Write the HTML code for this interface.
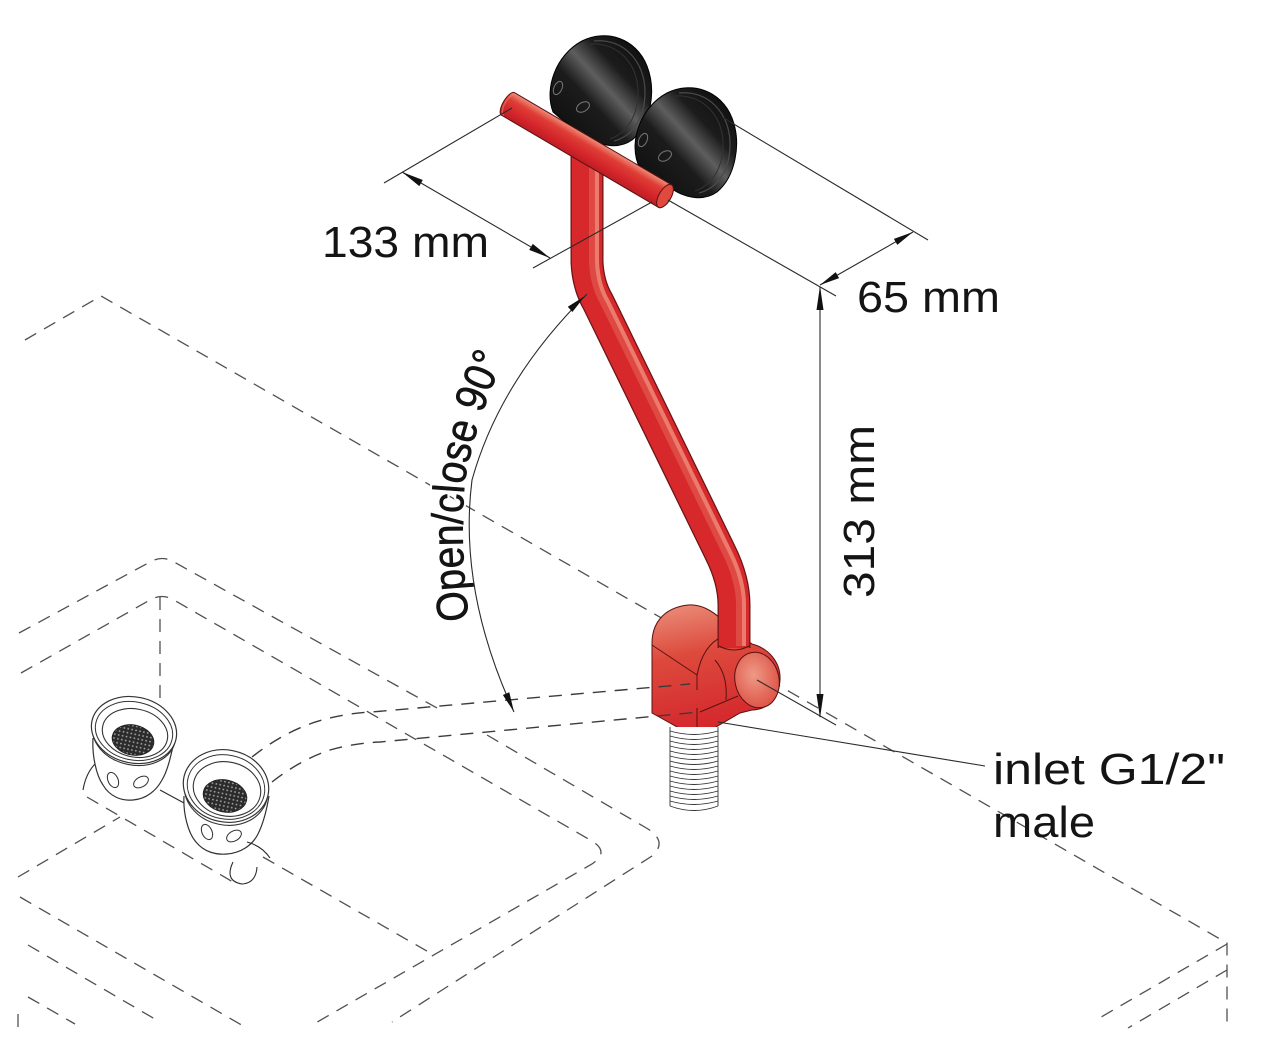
<!DOCTYPE html>
<html><head><meta charset="utf-8">
<style>
html,body{margin:0;padding:0;background:#fff;}
svg{display:block;}
.d{fill:none;stroke:#505050;stroke-width:1.3;stroke-dasharray:13 9;}
.s{fill:none;stroke:#2a2a2a;stroke-width:1.1;}
.t{font-family:"Liberation Sans",Arial,sans-serif;fill:#141414;}
</style></head>
<body>
<svg width="1280" height="1058" viewBox="0 0 1280 1058" xmlns="http://www.w3.org/2000/svg">
<defs>
 <linearGradient id="cupG" x1="0" y1="1" x2="1" y2="0">
  <stop offset="0" stop-color="#0a0a0a"/>
  <stop offset="0.40" stop-color="#1c1c1c"/>
  <stop offset="0.54" stop-color="#5e5e5e"/>
  <stop offset="0.68" stop-color="#1c1c1c"/>
  <stop offset="1" stop-color="#0a0a0a"/>
 </linearGradient>
 <linearGradient id="barG" gradientUnits="userSpaceOnUse" x1="0" y1="-13" x2="0" y2="13">
  <stop offset="0" stop-color="#ef8f7c"/>
  <stop offset="0.3" stop-color="#df3e36"/>
  <stop offset="0.7" stop-color="#d4252b"/>
  <stop offset="1" stop-color="#bd1d24"/>
 </linearGradient>
 <linearGradient id="blockG" x1="0.3" y1="0" x2="0.5" y2="1">
  <stop offset="0" stop-color="#e98774"/>
  <stop offset="0.35" stop-color="#dd4a3d"/>
  <stop offset="1" stop-color="#d3222a"/>
 </linearGradient>
 <radialGradient id="cylG" cx="0.45" cy="0.4" r="0.7">
  <stop offset="0" stop-color="#ee9a86"/>
  <stop offset="1" stop-color="#dc4a3e"/>
 </radialGradient>
 <pattern id="mesh" width="4" height="4" patternUnits="userSpaceOnUse">
  <rect width="4" height="4" fill="#2b2b2b"/>
  <circle cx="2" cy="2" r="0.9" fill="#aaa"/>
 </pattern>
 <path id="arcText" d="M469,620 Q459,545 465,480 Q478,410 512,343"/>
</defs>

<!-- countertop -->
<path class="d" d="M25,340 L101,296 L1227,943 L1227,1022"/>
<path class="d" d="M1227,944 L1096,1020"/>
<path class="d" d="M1227,970 L1128,1028"/>
<!-- sink rims -->
<path class="d" d="M19,633 L150,562 Q162,555 174,562 L437,708"/>
<path class="d" d="M487,735 L648,829 Q668,842 652,856 L392,1022"/>
<path class="d" d="M21,673 L150,600 Q162,593 174,600 L592,841 Q610,852 592,864 L312,1025"/>
<path class="d" d="M160,597 L160,700"/>
<!-- basin -->
<path class="d" d="M18,877 L120,817"/>
<path class="d" d="M87,797 L233,882"/>
<path class="d" d="M263,857 L432,954"/>
<!-- lower-left -->
<path class="d" d="M20,897 L245,1027"/>
<path class="d" d="M28,945 L160,1022"/>
<path class="d" d="M28,997 L75,1024"/>
<path class="d" d="M18,1014 L18,1028"/>

<!-- strainer 1 -->
<path d="M83,790 Q86,772 97,762" class="s"/>
<path d="M93,738 C92,755 96,775 103,785 C110,797 122,801 133,800 C146,799 156,791 162,780 C168,770 171,755 174,742" fill="#fff" stroke="#333" stroke-width="1.2"/>
<ellipse cx="134" cy="733" rx="42" ry="32" transform="rotate(12 134 733)" fill="#fff" stroke="#333" stroke-width="1.1"/>
<ellipse cx="134" cy="730" rx="43" ry="33" transform="rotate(12 134 730)" fill="#fff" stroke="#333" stroke-width="1.2"/>
<ellipse cx="134" cy="731" rx="39" ry="29" transform="rotate(12 134 731)" fill="none" stroke="#333" stroke-width="1"/>
<ellipse cx="135" cy="733" rx="33" ry="24" transform="rotate(12 135 733)" fill="#fff" stroke="#333" stroke-width="1.1"/>
<ellipse cx="133" cy="740" rx="21" ry="15" transform="rotate(12 133 740)" fill="url(#mesh)" stroke="#222"/>
<ellipse cx="113" cy="780" rx="5" ry="8" transform="rotate(-25 113 780)" fill="#fff" stroke="#333"/>
<ellipse cx="141" cy="782" rx="8" ry="5" transform="rotate(-30 141 782)" fill="#fff" stroke="#333"/>
<path d="M160,790 L184,803" class="s"/>

<!-- strainer 2 -->
<path d="M184,796 C183,813 188,833 196,842 C204,852 216,855 227,854 C240,853 252,846 258,834 C264,822 267,808 269,796" fill="#fff" stroke="#333" stroke-width="1.2"/>
<ellipse cx="226" cy="790" rx="42" ry="35" transform="rotate(12 226 790)" fill="#fff" stroke="#333" stroke-width="1.1"/>
<ellipse cx="226" cy="786" rx="43" ry="36" transform="rotate(12 226 786)" fill="#fff" stroke="#333" stroke-width="1.2"/>
<ellipse cx="226" cy="787" rx="39" ry="32" transform="rotate(12 226 787)" fill="none" stroke="#333" stroke-width="1"/>
<ellipse cx="227" cy="789" rx="34" ry="27" transform="rotate(12 227 789)" fill="#fff" stroke="#333" stroke-width="1.1"/>
<ellipse cx="225" cy="796" rx="22" ry="16" transform="rotate(12 225 796)" fill="url(#mesh)" stroke="#222"/>
<ellipse cx="207" cy="832" rx="5" ry="8" transform="rotate(-25 207 832)" fill="#fff" stroke="#333"/>
<ellipse cx="234" cy="836" rx="8" ry="5" transform="rotate(-30 234 836)" fill="#fff" stroke="#333"/>
<path d="M233,862 Q224,881 242,884 Q256,883 257,867" class="s"/>
<path d="M247,842 Q262,846 270,858" class="s"/>

<!-- suction cups -->
<g>
 <path d="M553,112 C544,88 556,55 582,41 C606,29 636,38 647,66 C657,92 650,125 632,140 C618,150 598,146 583,134 L560,118 Z" fill="url(#cupG)" stroke="#000" stroke-width="1"/>
 <path d="M594,41 C624,38 645,62 645,92 C645,118 633,136 614,141" fill="none" stroke="#4a4a4a" stroke-width="1.2"/>
 <path d="M590,44 C618,42 638,64 638,92 C638,116 627,133 610,139" fill="none" stroke="#333" stroke-width="1"/>
 <ellipse cx="558" cy="88" rx="4" ry="7" transform="rotate(25 558 88)" fill="none" stroke="#777" stroke-width="1"/>
 <ellipse cx="583" cy="107" rx="7" ry="4.5" transform="rotate(-30 583 107)" fill="none" stroke="#777" stroke-width="1"/>
</g>
<g transform="translate(85,52)">
 <path d="M553,112 C544,88 556,55 582,41 C606,29 636,38 647,66 C657,92 650,125 632,140 C618,150 598,146 583,134 L560,118 Z" fill="url(#cupG)" stroke="#000" stroke-width="1"/>
 <path d="M594,41 C624,38 645,62 645,92 C645,118 633,136 614,141" fill="none" stroke="#4a4a4a" stroke-width="1.2"/>
 <path d="M590,44 C618,42 638,64 638,92 C638,116 627,133 610,139" fill="none" stroke="#333" stroke-width="1"/>
 <ellipse cx="558" cy="88" rx="4" ry="7" transform="rotate(25 558 88)" fill="none" stroke="#777" stroke-width="1"/>
 <ellipse cx="580" cy="104" rx="7" ry="4.5" transform="rotate(-30 580 104)" fill="none" stroke="#777" stroke-width="1"/>
</g>

<!-- valve block -->
<path d="M652,713 L652,643 C652,625 662,608 688,605 C700,604 712,610 722,620 L752,644 C768,648 781,662 780,680 C779,698 767,710 752,710 L740,713 L697,738 Z" fill="url(#blockG)" stroke="#5a1212" stroke-width="1"/>
<ellipse cx="757" cy="680" rx="22" ry="28" transform="rotate(-12 757 680)" fill="url(#cylG)" stroke="#5a1212" stroke-width="1"/>
<path d="M652,645 L697,675 L697,690 M697,708 L697,738 M697,675 Q703,645 722,637 M715,660 Q728,675 726,700 M700,712 L738,696" fill="none" stroke="#5a1212" stroke-width="1"/>

<!-- pipe -->
<path d="M587,150 L587,262 Q588,285 598,302 L720,552 Q734,580 734,605 L734,648" fill="none" stroke="#6b1414" stroke-width="33"/>
<path d="M587,150 L587,262 Q588,285 598,302 L720,552 Q734,580 734,605 L734,648" fill="none" stroke="#d7282c" stroke-width="30.5"/>
<path d="M594,150 L594,262 Q595,285 605,302 L727,552 Q741,580 741,605 L741,646" fill="none" stroke="#e8715f" stroke-width="10" opacity="0.45"/>
<path d="M597,150 L597,262 Q598,285 608,302 L730,552 Q744,580 744,605 L744,646" fill="none" stroke="#f0937f" stroke-width="4" opacity="0.7"/>
<path d="M719,646 Q734,654 749,646" fill="none" stroke="#5a1212" stroke-width="1"/>

<!-- bar -->
<g transform="translate(586.5,150) rotate(30.4)">
 <path d="M-91,-13 L91,-13 A6,13 0 0 1 91,13 L-91,13 A5,13 0 0 1 -91,-13 Z" fill="url(#barG)" stroke="#5a1212" stroke-width="1"/>
 <ellipse cx="91" cy="0" rx="6" ry="13" fill="#e04a3e" stroke="#5a1212" stroke-width="1"/>
 <path d="M-89,-12 A5,12 0 0 0 -89,12" fill="none" stroke="#e9806d" stroke-width="1.5" opacity="0.6"/>
</g>

<!-- thread -->
<rect x="670" y="727" width="48" height="80" fill="#fff"/>
<path d="M670,727 L670,806 M718,727 L718,806 M670,806 Q694,815 718,806 M670,731 Q694,738 718,731 M670,736 Q694,743 718,736 M670,741 Q694,748 718,741 M670,746 Q694,753 718,746 M670,751 Q694,758 718,751 M670,756 Q694,763 718,756 M670,761 Q694,768 718,761 M670,766 Q694,773 718,766 M670,771 Q694,778 718,771 M670,776 Q694,783 718,776 M670,781 Q694,788 718,781 M670,786 Q694,793 718,786 M670,791 Q694,798 718,791 M670,796 Q694,803 718,796 M670,801 Q694,808 718,801" fill="none" stroke="#333" stroke-width="0.9"/>

<!-- hoses -->
<path class="d" d="M252,757 Q290,727 330,718 Q350,713 372,712 L690,684" style="stroke:#3c3c3c;stroke-width:1.4"/>
<path class="d" d="M272,782 Q300,760 330,750 Q355,743 380,742 L700,712" style="stroke:#3c3c3c;stroke-width:1.4"/>

<!-- arc label with halo -->
<text class="t" font-size="44" textLength="268" lengthAdjust="spacingAndGlyphs" stroke="#fff" stroke-width="5" paint-order="stroke" stroke-linejoin="round"><textPath href="#arcText">Open/close 90°</textPath></text>
<text class="t" font-size="44" textLength="268" lengthAdjust="spacingAndGlyphs" stroke="#141414" stroke-width="0.6"><textPath href="#arcText">Open/close 90°</textPath></text>

<!-- dimension / extension lines -->
<g class="s" stroke="#2e2e2e">
 <path d="M512,108 L384,183"/>
 <path d="M652,202 L533,268"/>
 <path d="M402,172 L550,258"/>
 <path d="M722,117 L928,240"/>
 <path d="M668,200 L836,296"/>
 <path d="M820,285 L913,232"/>
 <path d="M820,287 L820,717"/>
 <path d="M757,680 L836,725"/>
 <path d="M718,722 L985,766"/>
 <path d="M587,294 Q500,380 472,480 Q458,590 514,712"/>
</g>
<g fill="#111">
 <polygon points="402,172 419.3,186.1 422.8,180.0"/>
 <polygon points="550,258 529.2,249.9 532.8,243.9"/>
 <polygon points="820,285 839.1,278.1 835.7,272.1"/>
 <polygon points="913,232 897.3,244.9 893.9,238.9"/>
 <polygon points="820,286 816.5,310 823.5,310"/>
 <polygon points="820,718 816.5,694 823.5,694"/>
 <polygon points="585,296 572.4,312 567.8,306.8"/>
 <polygon points="514,712 509.3,692.2 502.9,695"/>
</g>

<!-- text -->
<text class="t" x="322" y="257" font-size="44" textLength="167" lengthAdjust="spacingAndGlyphs">133 mm</text>
<text class="t" x="857" y="312" font-size="44" textLength="143" lengthAdjust="spacingAndGlyphs">65 mm</text>
<text class="t" font-size="44" textLength="173" lengthAdjust="spacingAndGlyphs" transform="translate(874,598) rotate(-90)">313 mm</text>
<text class="t" x="993" y="784" font-size="44" textLength="232" lengthAdjust="spacingAndGlyphs">inlet G1/2"</text>
<text class="t" x="993" y="837" font-size="44" textLength="102" lengthAdjust="spacingAndGlyphs">male</text>
</svg>
</body></html>
